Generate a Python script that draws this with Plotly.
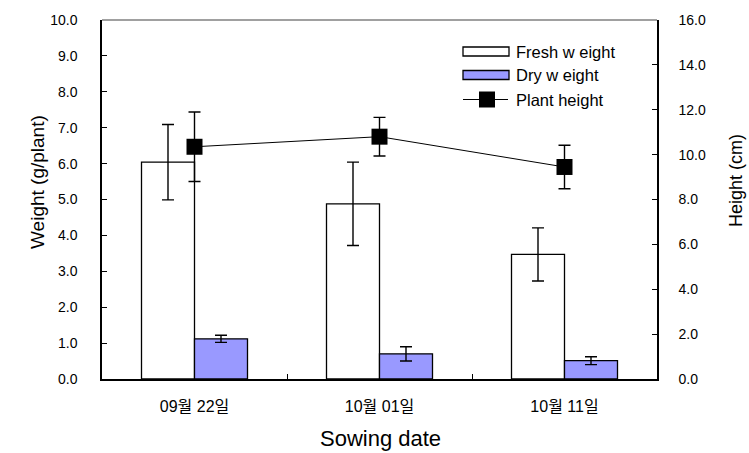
import plotly.graph_objects as go

# Sowing dates and measured growth values (mean, error)
dates = ["09월 22일", "10월 01일", "10월 11일"]
fresh_weight = [6.04, 4.88, 3.47]
fresh_weight_err = [1.05, 1.16, 0.74]
dry_weight = [1.12, 0.70, 0.51]
dry_weight_err = [0.10, 0.20, 0.11]
plant_height = [10.35, 10.80, 9.45]
plant_height_err = [1.55, 0.86, 0.97]

legend_labels = ["Fresh w eight", "Dry w eight", "Plant height"]

W, H = 749, 453
L, R, T, B = 102, 657, 20, 379  # plot-area edges in pixels

FONT = "Liberation Sans, Arial, Noto Sans CJK KR, sans-serif"
DRY_COLOR = "#9999FF"


def px_x(px):
    return (px - L) / (R - L)


def px_y(py):
    return (B - py) / (B - T)


err_style = dict(type="data", color="black", thickness=1.4, width=6)

fig = go.Figure()
fig.add_trace(go.Bar(
    x=dates, y=fresh_weight, name=legend_labels[0],
    marker=dict(color="white", line=dict(color="black", width=1.3)),
    error_y=dict(array=fresh_weight_err, **err_style),
))
fig.add_trace(go.Bar(
    x=dates, y=dry_weight, name=legend_labels[1],
    marker=dict(color=DRY_COLOR, line=dict(color="black", width=1.3)),
    error_y=dict(array=dry_weight_err, **err_style),
))
fig.add_trace(go.Scatter(
    x=dates, y=plant_height, name=legend_labels[2], yaxis="y2",
    mode="lines+markers",
    line=dict(color="black", width=1),
    marker=dict(symbol="square", size=16, color="black"),
    error_y=dict(array=plant_height_err, **err_style),
))

axis_common = dict(
    showline=True, linecolor="black", linewidth=1.5,
    ticks="inside", ticklen=5, tickwidth=1.3, tickcolor="black",
    showgrid=False, zeroline=False,
)
tick_font = dict(family=FONT, size=14, color="black")

fig.update_layout(
    width=W, height=H, autosize=False,
    margin=dict(l=L, r=W - R, t=T, b=H - B, pad=0),
    paper_bgcolor="white", plot_bgcolor="white",
    barmode="group", bargap=0.427, bargroupgap=0,
    showlegend=False,
    xaxis=dict(type="category", tickson="boundaries", ticklabelstandoff=12,
               tickfont=dict(family=FONT, size=16, color="black"),
               **axis_common),
    yaxis=dict(range=[0, 10], dtick=1, tickformat=".1f",
               ticklabelstandoff=20, tickfont=tick_font, **axis_common),
    yaxis2=dict(range=[0, 16], dtick=2, tickformat=".1f", overlaying="y",
                side="right", ticklabelstandoff=17, tickfont=tick_font,
                **axis_common),
)

# gray top frame line
fig.add_shape(type="line", xref="paper", yref="paper", x0=0, x1=1, y0=1, y1=1,
              line=dict(color="#808080", width=1.5))

# legend drawn as shapes and text
rows_y = [51.5, 75.0, 99.5]
fig.add_shape(type="rect", xref="paper", yref="paper",
              x0=px_x(463), x1=px_x(509), y0=px_y(rows_y[0] - 4.5), y1=px_y(rows_y[0] + 4.5),
              fillcolor="white", line=dict(color="black", width=1.3))
fig.add_shape(type="rect", xref="paper", yref="paper",
              x0=px_x(463), x1=px_x(509), y0=px_y(rows_y[1] - 4.5), y1=px_y(rows_y[1] + 4.5),
              fillcolor=DRY_COLOR, line=dict(color="black", width=1.3))
fig.add_shape(type="line", xref="paper", yref="paper",
              x0=px_x(463), x1=px_x(508), y0=px_y(rows_y[2]), y1=px_y(rows_y[2]),
              line=dict(color="black", width=1))
fig.add_shape(type="rect", xref="paper", yref="paper",
              x0=px_x(479), x1=px_x(495), y0=px_y(rows_y[2] - 8), y1=px_y(rows_y[2] + 8),
              fillcolor="black", line=dict(color="black", width=0))
for label, ry in zip(legend_labels, rows_y):
    fig.add_annotation(text=label, xref="paper", yref="paper",
                       x=px_x(514), y=px_y(ry), xanchor="left", yanchor="middle",
                       showarrow=False, font=dict(family=FONT, size=16.5, color="black"))

# axis titles
fig.add_annotation(text="Weight (g/plant)", xref="paper", yref="paper",
                   x=px_x(38), y=px_y(182), textangle=-90, showarrow=False,
                   xanchor="center", yanchor="middle",
                   font=dict(family=FONT, size=19, color="black"))
fig.add_annotation(text="Height (cm)", xref="paper", yref="paper",
                   x=px_x(736), y=px_y(181), textangle=-90, showarrow=False,
                   xanchor="center", yanchor="middle",
                   font=dict(family=FONT, size=18, color="black"))
fig.add_annotation(text="Sowing date", xref="paper", yref="paper",
                   x=px_x(380), y=px_y(438), showarrow=False,
                   xanchor="center", yanchor="middle",
                   font=dict(family=FONT, size=22, color="black"))

fig.write_html("out.html")
